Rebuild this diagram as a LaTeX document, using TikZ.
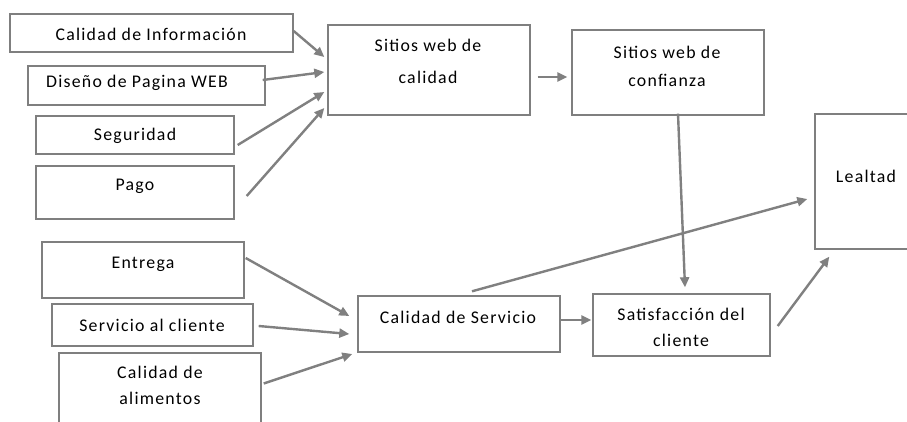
\documentclass[tikz,border=0pt]{standalone}
\usepackage{fontspec}
\setmainfont[LetterSpace=7]{Carlito}
\usetikzlibrary{arrows.meta}
\definecolor{bordergray}{HTML}{7F7F7F}
\definecolor{arrowgray}{HTML}{808080}
\tikzset{
  box/.style={draw=bordergray, line width=1.4pt, rectangle, inner sep=0pt, fill=white},
  txt/.style={font=\fontsize{17.8}{28}\selectfont, align=center, inner sep=0pt, text=black},
  conn/.style={draw=arrowgray, line width=2.4pt, -{Triangle[length=10pt,width=9pt]}}
}
\begin{document}
\begin{tikzpicture}[x=1pt,y=-1pt]
\useasboundingbox (0,0) rectangle (907,421);
\clip (0,0) rectangle (907,421);
\fill[white] (0,0) rectangle (907,421);
% boxes
\node[box, minimum width=283pt, minimum height=38pt] (ci) at (151.5,33) {};
\node[box, minimum width=237pt, minimum height=39pt] (dp) at (146.5,85.5) {};
\node[box, minimum width=198pt, minimum height=38pt] (seg) at (135,135) {};
\node[box, minimum width=198pt, minimum height=53pt] (pago) at (135,192.5) {};
\node[box, minimum width=202pt, minimum height=90pt] (swc) at (429,70) {};
\node[box, minimum width=192pt, minimum height=85pt] (swf) at (668,72.5) {};
\node[box, minimum width=100pt, minimum height=135pt] (leal) at (865,181.5) {};
\node[box, minimum width=202pt, minimum height=56pt] (ent) at (143,270) {};
\node[box, minimum width=201pt, minimum height=42pt] (sac) at (152.5,325) {};
\node[box, minimum width=202pt, minimum height=78pt] (cal) at (160,392) {};
\node[box, minimum width=202pt, minimum height=56pt] (cs) at (459,324) {};
\node[box, minimum width=177pt, minimum height=62pt] (sat) at (681.5,325) {};
% texts
\node[txt] (tci) at (151,34) {Calidad de Información};
\node[txt] (tdp) at (137,83) {Diseño de Pagina WEB};
\node[txt] (tseg) at (135,136) {Seguridad};
\node[txt] (tpago) at (135,186) {Pago};
\node[txt, font=\fontsize{17.8}{32}\selectfont] (tswc) at (428,61) {Sitios web de\\calidad};
\node[txt] (tswf) at (667,66) {Sitios web de\\confianza};
\node[txt] (tleal) at (866,176) {Lealtad};
\node[txt] (tent) at (143,264) {Entrega};
\node[txt] (tsac) at (152,325) {Servicio al cliente};
\node[txt, font=\fontsize{17.8}{26}\selectfont] (tcal) at (160,385) {Calidad de\\alimentos};
\node[txt] (tcs) at (458,317) {Calidad de Servicio};
\node[txt, font=\fontsize{17.8}{26}\selectfont] (tsat) at (681,327) {Satisfacción del\\cliente};
% connectors
\draw[conn] ([shift={(0,-2)}]ci.east) -- ([shift={(-3,-13)}]swc.west);
\draw[conn] ([shift={(-3,-5.5)}]dp.east) -- ([shift={(-3,2)}]swc.west);
\draw[conn] ([shift={(3,10)}]seg.east) -- ([shift={(-3,22)}]swc.west);
\draw[conn] ([shift={(12,3.5)}]pago.east) -- ([shift={(-3,38)}]swc.west);
\draw[conn] ([shift={(7,7)}]swc.east) -- ([shift={(-4,4.5)}]swf.west);
\draw[conn] ([shift={(10,-2)}]swf.south) -- ([shift={(3.5,-6)}]sat.north);
\draw[conn] ([shift={(13,-4)}]cs.north) -- ([shift={(-7,17.5)}]leal.west);
\draw[conn] ([shift={(7,1)}]sat.east) -- ([shift={(15,7)}]leal.south west);
\draw[conn] ([shift={(1,-12)}]ent.east) -- ([shift={(-8,-8)}]cs.west);
\draw[conn] ([shift={(5,1)}]sac.east) -- ([shift={(-8,10)}]cs.west);
\draw[conn] ([shift={(2,-8.5)}]cal.east) -- ([shift={(-5,30)}]cs.west);
\draw[conn] ([shift={(0,-4)}]cs.east) -- ([shift={(-1,-5)}]sat.west);
\end{tikzpicture}
\end{document}
